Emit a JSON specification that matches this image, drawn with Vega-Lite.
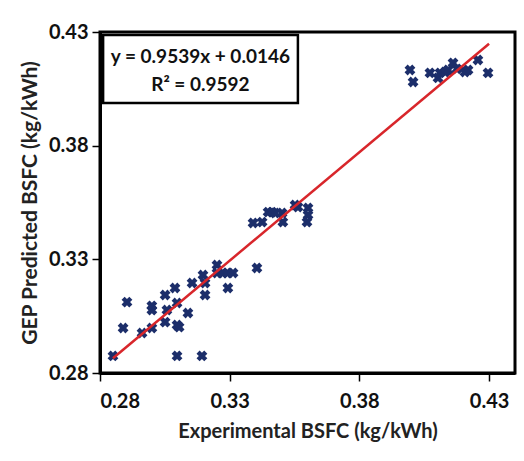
{
  "$schema": "https://vega.github.io/schema/vega-lite/v6.json",
  "width": 415,
  "height": 341,
  "autosize": {"type": "none"},
  "padding": {"left": 100, "top": 32, "right": 9, "bottom": 88},
  "background": "white",
  "config": {
    "view": {"stroke": "black", "strokeWidth": 3},
    "font": "Lato",
    "axis": {
      "grid": false,
      "domainColor": "black",
      "domainWidth": 3,
      "tickColor": "black",
      "tickWidth": 1.5,
      "tickSize": 8,
      "labelFont": "Lato",
      "labelFontWeight": "bold",
      "labelFontSize": 20,
      "labelColor": "#111",
      "titleFont": "Lato",
      "titleFontWeight": "bold",
      "titleColor": "#222"
    }
  },
  "datasets": {
    "pts": [
      {"exp": 0.2850, "pred": 0.2875},
      {"exp": 0.2889, "pred": 0.2998},
      {"exp": 0.2904, "pred": 0.3112},
      {"exp": 0.2962, "pred": 0.2976},
      {"exp": 0.3000, "pred": 0.2998},
      {"exp": 0.3000, "pred": 0.3077},
      {"exp": 0.3000, "pred": 0.3095},
      {"exp": 0.3051, "pred": 0.3143},
      {"exp": 0.3058, "pred": 0.3077},
      {"exp": 0.3051, "pred": 0.3024},
      {"exp": 0.3089, "pred": 0.3174},
      {"exp": 0.3097, "pred": 0.3108},
      {"exp": 0.3097, "pred": 0.3011},
      {"exp": 0.3105, "pred": 0.3002},
      {"exp": 0.3097, "pred": 0.2875},
      {"exp": 0.3139, "pred": 0.3064},
      {"exp": 0.3155, "pred": 0.3196},
      {"exp": 0.3193, "pred": 0.2875},
      {"exp": 0.3197, "pred": 0.3231},
      {"exp": 0.3205, "pred": 0.3196},
      {"exp": 0.3205, "pred": 0.3143},
      {"exp": 0.3251, "pred": 0.3275},
      {"exp": 0.3251, "pred": 0.3240},
      {"exp": 0.3274, "pred": 0.3240},
      {"exp": 0.3290, "pred": 0.3240},
      {"exp": 0.3313, "pred": 0.3240},
      {"exp": 0.3293, "pred": 0.3174},
      {"exp": 0.3405, "pred": 0.3262},
      {"exp": 0.3390, "pred": 0.3460},
      {"exp": 0.3425, "pred": 0.3464},
      {"exp": 0.3448, "pred": 0.3508},
      {"exp": 0.3463, "pred": 0.3508},
      {"exp": 0.3475, "pred": 0.3504},
      {"exp": 0.3502, "pred": 0.3504},
      {"exp": 0.3505, "pred": 0.3464},
      {"exp": 0.3552, "pred": 0.3539},
      {"exp": 0.3563, "pred": 0.3530},
      {"exp": 0.3602, "pred": 0.3526},
      {"exp": 0.3602, "pred": 0.3495},
      {"exp": 0.3598, "pred": 0.3464},
      {"exp": 0.3995, "pred": 0.4133},
      {"exp": 0.4007, "pred": 0.4080},
      {"exp": 0.4072, "pred": 0.4120},
      {"exp": 0.4103, "pred": 0.4098},
      {"exp": 0.4111, "pred": 0.4120},
      {"exp": 0.4130, "pred": 0.4124},
      {"exp": 0.4142, "pred": 0.4133},
      {"exp": 0.4161, "pred": 0.4164},
      {"exp": 0.4176, "pred": 0.4138},
      {"exp": 0.4207, "pred": 0.4124},
      {"exp": 0.4219, "pred": 0.4133},
      {"exp": 0.4257, "pred": 0.4177},
      {"exp": 0.4296, "pred": 0.4120}
    ],
    "fit": [
      {"exp": 0.285, "pred": 0.2865},
      {"exp": 0.430, "pred": 0.4248}
    ],
    "box": [
      {"x1": 0.2812, "x2": 0.3563, "y1": 0.3988, "y2": 0.4287}
    ],
    "labels": [
      {"x": 0.3187, "y": 0.4190, "t": "y = 0.9539x + 0.0146"},
      {"x": 0.3187, "y": 0.4067, "t": "R² = 0.9592"}
    ]
  },
  "encoding": {},
  "layer": [
    {
      "data": {"name": "pts"},
      "mark": {"type": "point", "shape": "cross", "angle": 45, "filled": true, "color": "#1c2e6a", "size": 120, "opacity": 1},
      "encoding": {
        "x": {"field": "exp", "type": "quantitative",
              "scale": {"domain": [0.28, 0.44], "nice": false, "zero": false},
              "axis": {"values": [0.28, 0.33, 0.38, 0.43], "format": ".2f", "title": "Experimental BSFC (kg/kWh)", "titleFontSize": 20, "labelPadding": 10, "titlePadding": 10}},
        "y": {"field": "pred", "type": "quantitative",
              "scale": {"domain": [0.28, 0.43], "nice": false, "zero": false},
              "axis": {"values": [0.28, 0.33, 0.38, 0.43], "format": ".2f", "title": "GEP Predicted BSFC (kg/kWh)", "titleFontSize": 21, "labelPadding": 4, "titlePadding": 8}}
      }
    },
    {
      "data": {"name": "fit"},
      "mark": {"type": "line", "color": "#d8262b", "strokeWidth": 2.5},
      "encoding": {
        "x": {"field": "exp", "type": "quantitative"},
        "y": {"field": "pred", "type": "quantitative"}
      }
    },
    {
      "data": {"name": "box"},
      "mark": {"type": "rect", "fill": "white", "stroke": "black", "strokeWidth": 2.5},
      "encoding": {
        "x": {"field": "x1", "type": "quantitative"},
        "x2": {"field": "x2"},
        "y": {"field": "y1", "type": "quantitative"},
        "y2": {"field": "y2"}
      }
    },
    {
      "data": {"name": "labels"},
      "mark": {"type": "text", "font": "Lato", "fontWeight": "bold", "fontSize": 19, "color": "#111", "align": "center", "baseline": "middle"},
      "encoding": {
        "x": {"field": "x", "type": "quantitative"},
        "y": {"field": "y", "type": "quantitative"},
        "text": {"field": "t"}
      }
    }
  ]
}
